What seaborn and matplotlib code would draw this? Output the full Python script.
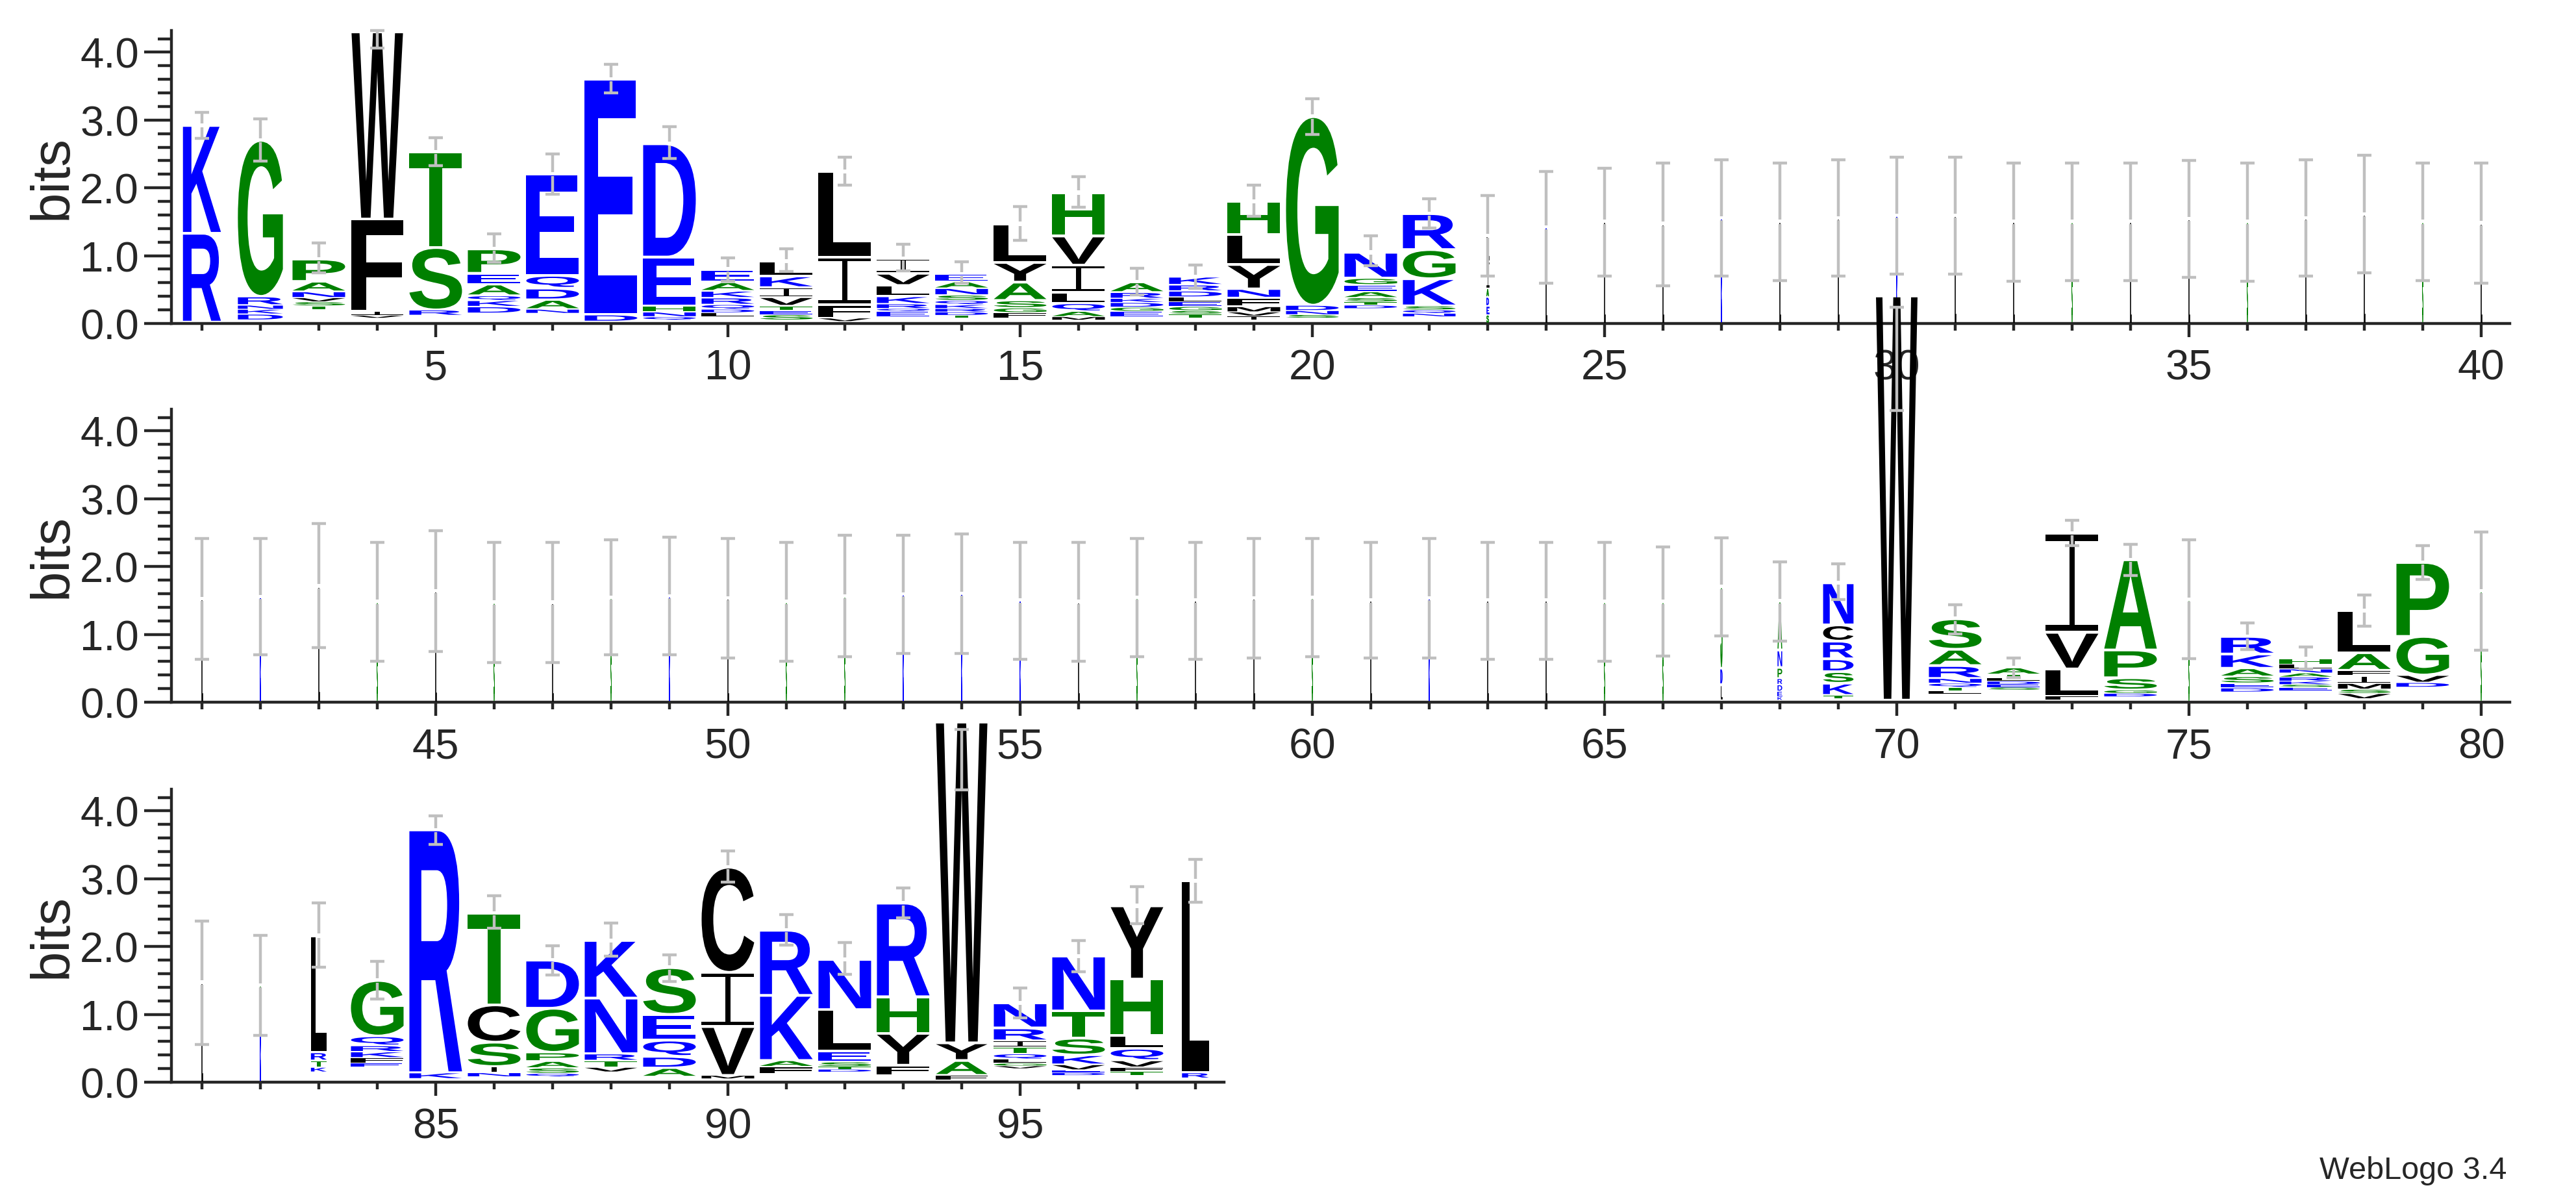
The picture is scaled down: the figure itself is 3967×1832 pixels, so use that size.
import matplotlib
matplotlib.use("Agg")
import matplotlib.pyplot as plt
import seaborn as sns
from matplotlib.textpath import TextPath
from matplotlib.font_manager import FontProperties
from matplotlib.patches import PathPatch
from matplotlib.path import Path
from matplotlib.transforms import Affine2D, blended_transform_factory
from matplotlib.ticker import MultipleLocator, FormatStrFormatter

# ─── DATA ─────────────────────────────────────────────────────────────────────
# one entry per alignment position 1..98, letters listed bottom -> top

positions = list(range(1, 99))

stack_letters = [
    "RK", "DKNRG", "TSVNAP", "VIFW", "RST", "DKQAEP", "NADQE", "DE", "QNHED",
    "LDQRKAE", "SETVIKL", "VFIL", "EQRKLVI", "TDRKQSNAE", "FGSAYL", "MAQLIVH",
    "EGDKRA", "TSGELDRK", "IVMFNYLH", "SNDG", "DTSAEGN", "NQSKGR", "SEDAIL",
    # 24-40
    "LK", "LL", "LL", "KK", "LL", "LL", "KK", "LL", "LL", "SS", "LL", "LL",
    "SS", "LL", "LL", "SS", "LL",
    # 41-66
    "LL", "KK", "LL", "SS", "LL", "SS", "LL", "SS", "KK", "LL", "SS", "SS",
    "KK", "KK", "KK", "LL", "SS", "LL", "LL", "SS", "LL", "KK", "LL", "LL",
    "SS", "SS",
    # 67-80
    "LDS", "KEDRPNA", "TKSDRCN", "W", "LTQNRAS", "SEDLTA", "FLVI", "DGSPA",
    "SS", "DESAKR", "ESKRANLH", "VSMIFAL", "DVGP", "SS",
    # 81-98
    "LL", "KS", "KTRL", "EFKRQG", "KR", "NISCT", "QSAPGD", "VTRNK", "ADQES",
    "MVIC", "FAKR", "DTSELN", "FYHR", "FAYW", "VGLQTIRN", "DEVKSTN",
    "TFVQLHY", "RL",
]

stack_heights = [
    [1.31, 1.59], [0.09, 0.07, 0.06, 0.13, 2.30],
    [0.06, 0.06, 0.06, 0.09, 0.15, 0.33], [0.04, 0.06, 1.36, 2.76],
    [0.08, 0.92, 1.41], [0.10, 0.09, 0.07, 0.17, 0.16, 0.36],
    [0.06, 0.14, 0.17, 0.19, 1.49], [0.10, 3.47],
    [0.05, 0.07, 0.09, 0.72, 1.67],
    [0.06, 0.05, 0.07, 0.10, 0.10, 0.13, 0.19],
    [0.08, 0.06, 0.07, 0.13, 0.14, 0.17, 0.22], [0.05, 0.20, 0.70, 1.26],
    [0.08, 0.04, 0.07, 0.11, 0.16, 0.18, 0.22],
    [0.04, 0.05, 0.05, 0.06, 0.06, 0.08, 0.10, 0.10, 0.11],
    [0.08, 0.07, 0.11, 0.27, 0.29, 0.57],
    [0.05, 0.08, 0.12, 0.16, 0.40, 0.43, 0.64],
    [0.08, 0.06, 0.07, 0.06, 0.09, 0.15],
    [0.06, 0.05, 0.06, 0.07, 0.07, 0.09, 0.09, 0.12],
    [0.06, 0.06, 0.08, 0.13, 0.13, 0.36, 0.44, 0.49],
    [0.05, 0.06, 0.08, 2.78], [0.05, 0.05, 0.06, 0.09, 0.10, 0.10, 0.38],
    [0.05, 0.05, 0.06, 0.40, 0.43, 0.53],
    [0.13, 0.13, 0.13, 0.13, 0.40, 0.37],
    # 24-40
    [0.71, 0.71], [0.75, 0.75], [0.73, 0.74], [0.77, 0.78], [0.75, 0.75],
    [0.77, 0.78], [0.79, 0.80], [0.79, 0.80], [0.75, 0.75], [0.75, 0.75],
    [0.75, 0.75], [0.77, 0.77], [0.75, 0.75], [0.77, 0.78], [0.80, 0.81],
    [0.75, 0.75], [0.74, 0.74],
    # 41-66
    [0.76, 0.76], [0.77, 0.78], [0.85, 0.86], [0.74, 0.74], [0.82, 0.82],
    [0.73, 0.74], [0.73, 0.74], [0.77, 0.77], [0.78, 0.78], [0.76, 0.77],
    [0.74, 0.74], [0.78, 0.78], [0.79, 0.80], [0.80, 0.80], [0.75, 0.75],
    [0.74, 0.74], [0.77, 0.77], [0.75, 0.75], [0.76, 0.77], [0.77, 0.77],
    [0.75, 0.75], [0.76, 0.77], [0.75, 0.75], [0.75, 0.75], [0.74, 0.74],
    [0.74, 0.74],
    # 67-80
    [0.23, 0.24, 1.20], [0.05, 0.08, 0.10, 0.09, 0.16, 0.26, 0.72],
    [0.05, 0.18, 0.17, 0.19, 0.26, 0.24, 0.62], [5.96],
    [0.05, 0.05, 0.06, 0.07, 0.19, 0.24, 0.45],
    [0.04, 0.04, 0.05, 0.05, 0.05, 0.10], [0.06, 0.40, 0.54, 1.46],
    [0.05, 0.05, 0.18, 0.41, 1.33], [0.75, 0.76],
    [0.06, 0.07, 0.10, 0.12, 0.21, 0.26],
    [0.05, 0.04, 0.05, 0.06, 0.06, 0.06, 0.07, 0.08],
    [0.08, 0.06, 0.09, 0.11, 0.08, 0.26, 0.62], [0.07, 0.11, 0.57, 1.09],
    [0.82, 0.82],
    # 81-98
    [0.73, 0.74], [0.71, 0.72], [0.07, 0.10, 0.12, 1.72],
    [0.06, 0.08, 0.09, 0.09, 0.14, 0.82], [0.09, 3.58],
    [0.06, 0.09, 0.36, 0.55, 1.35], [0.05, 0.08, 0.10, 0.13, 0.65, 0.71],
    [0.07, 0.10, 0.10, 0.82, 0.85], [0.13, 0.17, 0.24, 0.38, 0.69],
    [0.05, 0.72, 0.80, 1.55], [0.11, 0.09, 0.96, 0.96],
    [0.04, 0.04, 0.07, 0.16, 0.61, 0.74], [0.15, 0.47, 0.54, 1.38],
    [0.07, 0.22, 0.26, 4.73],
    [0.04, 0.04, 0.06, 0.08, 0.10, 0.09, 0.19, 0.37],
    [0.04, 0.04, 0.08, 0.14, 0.25, 0.40, 0.81],
    [0.06, 0.06, 0.10, 0.18, 0.19, 0.83, 1.08], [0.08, 2.83],
]

# bits taken by residues too small to be seen at the bottom of each stack
hidden_bits = [
    0.02, 0.05, 0.20, 0.08, 0.12, 0.15, 0.15, 0.03, 0.05, 0.10, 0.05, 0.03,
    0.10, 0.08, 0.08, 0.05, 0.10, 0.08, 0.05, 0.08, 0.22, 0.10, 0.00,
] + [0.0] * 43 + [
    0.03, 0.03, 0.05, 0.03, 0.12, 0.18, 0.03, 0.08, 0.0, 0.15, 0.17, 0.05,
    0.22, 0.0,
    0.0, 0.0, 0.15, 0.22, 0.05, 0.08, 0.08, 0.15, 0.08, 0.05, 0.12, 0.15,
    0.10, 0.03, 0.20, 0.10, 0.10, 0.06,
]

# fraction of sequences present in the column (stack width)
col_width = [
    0.65, 0.77, 0.90, 0.88, 0.90, 0.90, 0.90, 0.90, 0.90, 0.90, 0.90, 0.90,
    0.90, 0.90, 0.90, 0.90, 0.90, 0.90, 0.90, 0.90, 0.90, 0.90, 0.04,
] + [0.015] * 43 + [
    0.03, 0.08, 0.52, 0.71, 0.90, 0.90, 0.90, 0.90, 0.015, 0.90, 0.90, 0.90,
    0.90, 0.015,
    0.015, 0.015, 0.27, 0.90, 0.90, 0.90, 0.90, 0.90, 0.90, 0.90, 0.90, 0.90,
    0.90, 0.88, 0.90, 0.90, 0.90, 0.46,
]

err_lo = [
    2.73, 2.39, 0.75, 4.06, 2.33, 0.90, 1.91, 3.40, 2.43, 0.62, 0.77, 2.04,
    0.78, 0.59, 1.23, 1.71, 0.42, 0.52, 1.58, 2.79, 0.85, 1.41, 0.70,
    0.59, 0.70, 0.56, 0.70, 0.63, 0.70, 0.73, 0.73, 0.62, 0.63, 0.63, 0.68,
    0.62, 0.70, 0.75, 0.63, 0.59,
    0.63, 0.70, 0.80, 0.60, 0.75, 0.58, 0.58, 0.70, 0.70, 0.65, 0.60, 0.67,
    0.72, 0.72, 0.63, 0.60, 0.67, 0.63, 0.65, 0.67, 0.65, 0.65, 0.63, 0.63,
    0.60, 0.68,
    0.98, 0.90, 1.51, 4.30, 1.01, 0.36, 2.31, 1.87, 0.64, 0.78, 0.49, 1.12,
    1.81, 0.77,
    0.56, 0.69, 1.70, 1.23, 3.51, 2.27, 1.58, 1.86, 1.48, 2.95, 2.02, 1.59,
    2.42, 4.31, 0.95, 1.63, 2.34, 2.65,
]

err_hi = [
    3.11, 3.02, 1.19, 4.32, 2.74, 1.32, 2.50, 3.82, 2.90, 0.97, 1.10, 2.45,
    1.17, 0.91, 1.72, 2.16, 0.81, 0.86, 2.04, 3.31, 1.29, 1.84, 1.89,
    2.24, 2.29, 2.37, 2.41, 2.37, 2.41, 2.45, 2.45, 2.37, 2.37, 2.37, 2.40,
    2.37, 2.41, 2.48, 2.37, 2.37,
    2.41, 2.41, 2.63, 2.36, 2.53, 2.36, 2.36, 2.39, 2.43, 2.41, 2.36, 2.46,
    2.46, 2.48, 2.36, 2.36, 2.41, 2.36, 2.41, 2.41, 2.36, 2.41, 2.36, 2.36,
    2.36, 2.29,
    2.42, 2.07, 2.04, 5.82, 1.44, 0.65, 2.68, 2.33, 2.39, 1.17, 0.81, 1.58,
    2.31, 2.51,
    2.38, 2.16, 2.64, 1.78, 3.93, 2.75, 2.01, 2.35, 1.88, 3.41, 2.47, 2.06,
    2.86, 5.20, 1.39, 2.09, 2.88, 3.29,
]

row_ranges = [(1, 40), (41, 80), (81, 98)]

# ─── STYLE ────────────────────────────────────────────────────────────────────

BLUE, GREEN, BLACK, ERR_GREY = "#0000ff", "#008000", "#000000", "#bfbfbf"
BLUE_RES, GREEN_RES = "KRDENQ", "GSTHAP"

FIG_W, FIG_H, DPI = 3967, 1833, 100
PX_PER_BIT = 104.4
Y_TOP = 4.32
PX_PER_POS = 90.0
LEFT_PX = 264
BASELINES_PX = [499, 1082, 1667]
LW = 3.2

sns.set_style("ticks")
plt.rcParams["font.family"] = ["Liberation Sans", "DejaVu Sans"]

GLYPH_FONT = FontProperties(family="Liberation Sans", weight="bold")
_glyphs = {}


def serif_i():
    # weblogo draws I with a thin stem and full-width bars
    bar, stem = 0.065, 0.11
    boxes = [(0, 0, 1, bar), (0.5 - stem / 2, bar, stem, 1 - 2 * bar),
             (0, 1 - bar, 1, bar)]
    verts, codes = [], []
    for x, y, w, h in boxes:
        verts += [(x, y), (x + w, y), (x + w, y + h), (x, y + h), (x, y)]
        codes += [Path.MOVETO, Path.LINETO, Path.LINETO, Path.LINETO,
                  Path.CLOSEPOLY]
    return Path(verts, codes)


def glyph(ch):
    if ch not in _glyphs:
        path = serif_i() if ch == "I" else TextPath((0, 0), ch, size=100,
                                                    prop=GLYPH_FONT)
        _glyphs[ch] = (path, path.get_extents())
    return _glyphs[ch]


def letter_color(ch):
    if ch in BLUE_RES:
        return BLUE
    if ch in GREEN_RES:
        return GREEN
    return BLACK


def draw_letter(ax, ch, x, y0, w, h):
    gap = min(0.04, 0.22 * h)
    y0, h = y0 + gap / 2, h - gap
    path, ext = glyph(ch)
    t = (Affine2D().translate(-ext.x0, -ext.y0)
         .scale(w / ext.width, h / ext.height)
         .translate(x - w / 2, y0))
    c = letter_color(ch)
    thin = w < 0.05
    ax.add_patch(PathPatch(t.transform_path(path), facecolor=c,
                           edgecolor=c if thin else "none",
                           lw=0.45 if thin else 0, clip_on=False, zorder=3))


def draw_errorbar(ax, x, top, lo, hi):
    kw = dict(colors=ERR_GREY, lw=LW, clip_on=False, zorder=4)
    gap = 0.03
    if lo < top - gap and top + gap < hi:
        ax.vlines(x, lo, top - gap, **kw)
        ax.vlines(x, top + gap, hi, **kw)
    else:
        ax.vlines(x, lo, hi, **kw)
    ax.hlines([lo, hi], x - 0.12, x + 0.12, **kw)


# ─── FIGURE ───────────────────────────────────────────────────────────────────

fig = plt.figure(figsize=(FIG_W / DPI, FIG_H / DPI), dpi=DPI)
axes = []
for (first, last), base in zip(row_ranges, BASELINES_PX):
    x0, x1 = first - 0.522, last + 0.49
    width_px = (x1 - x0) * PX_PER_POS
    height_px = Y_TOP * PX_PER_BIT
    ax = fig.add_axes([LEFT_PX / FIG_W, 1 - base / FIG_H,
                       width_px / FIG_W, height_px / FIG_H])
    ax.set_facecolor("none")
    ax.set_xlim(x0, x1)
    ax.set_ylim(0, Y_TOP)
    sns.despine(ax=ax)
    for side in ("left", "bottom"):
        ax.spines[side].set_linewidth(LW)
    ax.xaxis.set_major_locator(MultipleLocator(5))
    ax.xaxis.set_minor_locator(MultipleLocator(1))
    ax.yaxis.set_major_locator(MultipleLocator(1.0))
    ax.yaxis.set_minor_locator(MultipleLocator(0.2))
    ax.yaxis.set_major_formatter(FormatStrFormatter("%.1f"))
    ax.tick_params(axis="y", which="major", length=30, width=LW,
                   labelsize=47, pad=6)
    ax.tick_params(axis="y", which="minor", length=15, width=LW)
    ax.tick_params(axis="x", which="major", length=15, width=LW,
                   labelsize=47, pad=13)
    ax.tick_params(axis="x", which="minor", length=8, width=LW)
    ax.text(103 / FIG_W, 0.5, "bits", fontsize=60, rotation=90,
            rotation_mode="anchor", ha="center", va="baseline",
            transform=blended_transform_factory(fig.transFigure, ax.transAxes))
    axes.append(ax)

for i, pos in enumerate(positions):
    row = 0 if pos <= 40 else (1 if pos <= 80 else 2)
    ax = axes[row]
    y = hidden_bits[i]
    for ch, h in zip(stack_letters[i], stack_heights[i]):
        draw_letter(ax, ch, pos, y, col_width[i], h)
        y += h
    draw_errorbar(ax, pos, y, err_lo[i], err_hi[i])

fig.text(3860 / FIG_W, 1 - 1815 / FIG_H, "WebLogo 3.4", fontsize=35,
         ha="right", va="baseline")

fig.savefig("out.png", dpi=DPI)
